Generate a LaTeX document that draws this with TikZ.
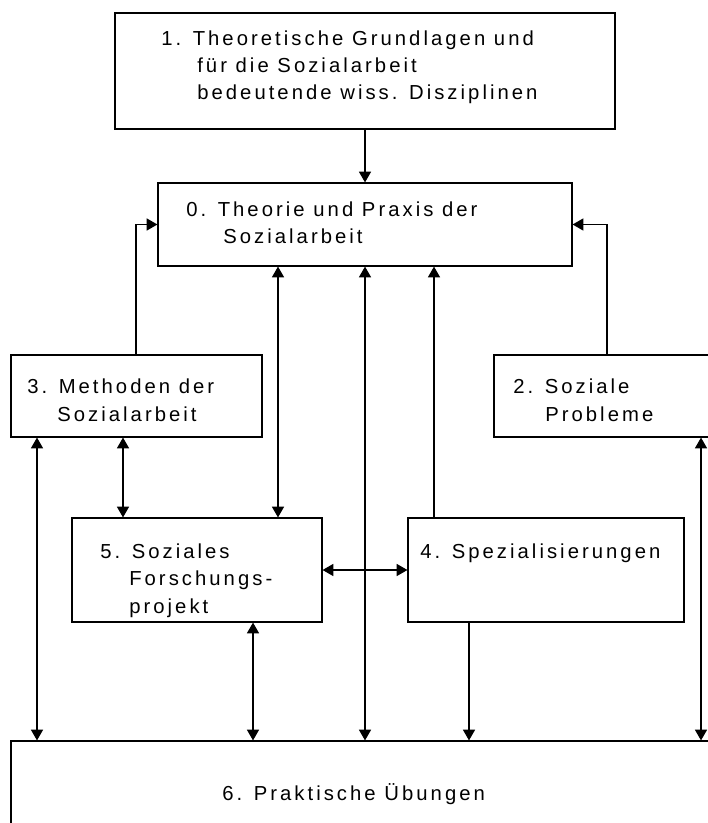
\documentclass[tikz,border=0pt]{standalone}
\usepackage{fontspec}
\setmainfont{Liberation Sans}[LetterSpace=15]
\usetikzlibrary{arrows.meta,fit}
\begin{document}
\begin{tikzpicture}[x=0.75pt,y=-0.75pt,
  box/.style={draw, line width=0.9pt, inner sep=0pt},
  txt/.style={inner sep=0pt, anchor=base west, align=left, font=\fontsize{15.2pt}{20.3pt}\selectfont},
  con/.style={line width=0.9pt, -{Triangle[length=8pt,width=9pt]}},
  dcon/.style={line width=0.9pt, {Triangle[length=8pt,width=9pt]}-{Triangle[length=8pt,width=9pt]}}]
\useasboundingbox[fill=white] (0,0) rectangle (707,823);
% boxes
\node[box, fit={(115,13) (615,129)}] (b1) {};
\node[box, fit={(158,183) (572,266)}] (b0) {};
\node[box, fit={(11,355) (262,437)}] (b3) {};
\node[box, fit={(494,355) (730,437)}] (b2) {};
\node[box, fit={(72,518) (322,622)}] (b5) {};
\node[box, fit={(408,518) (684,622)}] (b4) {};
\node[box, fit={(11,741) (730,850)}] (b6) {};
% x positions
\coordinate (x37) at (37,0);
\coordinate (x123) at (123,0);
\coordinate (x136) at (136,0);
\coordinate (x253) at (253,0);
\coordinate (x278) at (278,0);
\coordinate (x365) at (365,0);
\coordinate (x434) at (434,0);
\coordinate (x469) at (469,0);
\coordinate (x607) at (607,0);
\coordinate (x701) at (701,0);
% connectors
\draw[con] (b1.south -| x365) -- (b0.north -| x365);
\draw[con] (b3.north -| x136) |- (b0.west);
\draw[con] (b2.north -| x607) |- (b0.east);
\draw[dcon] (b0.south -| x278) -- (b5.north -| x278);
\draw[dcon] (b0.south -| x365) -- (b6.north -| x365);
\draw[con] (b4.north -| x434) -- (b0.south -| x434);
\draw[dcon] (b3.south -| x37) -- (b6.north -| x37);
\draw[dcon] (b3.south -| x123) -- (b5.north -| x123);
\draw[dcon] (b5.south -| x253) -- (b6.north -| x253);
\draw[dcon] (b5.east) -- (b4.west);
\draw[con] (b4.south -| x469) -- (b6.north -| x469);
\draw[dcon] (b2.south -| x701) -- (b6.north -| x701);
% texts (anchor = baseline of the last line)
\node[txt] (t1) at (161,100) {1. Theoretische Grundlagen und\\\hspace*{27pt}für die Sozialarbeit\\\hspace*{27pt}bedeutende wiss. Disziplinen};
\node[txt] (t0) at (186,244) {0. Theorie und Praxis der\\\hspace*{27.75pt}Sozialarbeit};
\node[txt] (t3) at (27,421) {3. Methoden der\\\hspace*{22.5pt}Sozialarbeit};
\node[txt] (t2) at (513,421) {2. Soziale\\\hspace*{24pt}Probleme};
\node[txt] (t5) at (100,613) {5. Soziales\\\hspace*{21.75pt}Forschungs-\\\hspace*{21.75pt}projekt};
\node[txt] (t4) at (420,558) {4. Spezialisierungen};
\node[txt] (t6) at (222,800) {6. Praktische Übungen};
\end{tikzpicture}
\end{document}
